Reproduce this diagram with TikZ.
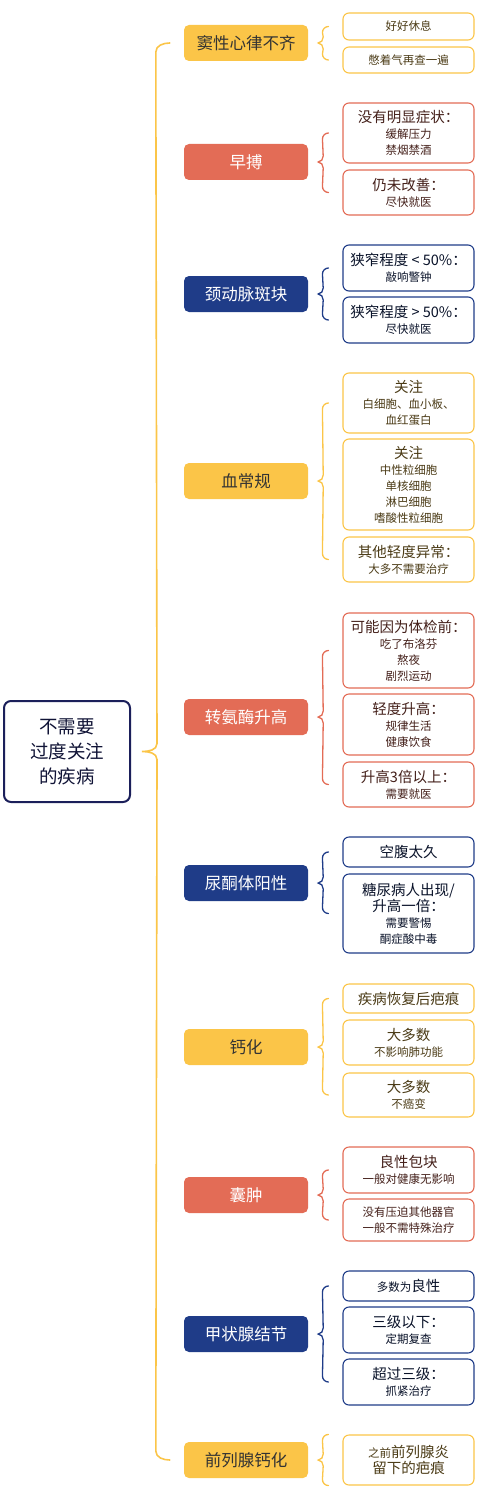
\documentclass[tikz,border=0pt]{standalone}
\usepackage{fontspec}
\newfontfamily\cjk{Noto Sans CJK SC}
\usepackage{tikz}

\definecolor{mapyellow}{HTML}{FBC548}
\definecolor{mapred}{HTML}{E36C56}
\definecolor{mapblue}{HTML}{1F3C88}
\definecolor{mapnavy}{HTML}{1B1F5A}

\tikzset{
  topic/.style={rounded corners=5pt,minimum width=124pt,minimum height=36pt,inner sep=0pt,
    font=\cjk\fontsize{16.5}{18}\selectfont},
  ytopic/.style={topic,fill=mapyellow,text=black!80},
  rtopic/.style={topic,fill=mapred,text=white},
  btopic/.style={topic,fill=mapblue,text=white},
  leaf/.style={draw=#1,line width=1.1pt,rounded corners=6pt,fill=white,minimum width=131pt,
    inner sep=0pt,align=center,text=#1!30!black,font=\cjk\fontsize{11.5}{16}\selectfont},
  curly/.style={line width=1.3pt,line cap=round},
}
\newcommand{\firstln}[1]{{\fontsize{14.5}{16}\selectfont #1}}
% brace from the first leaf to the last one, tip at the topic
\newcommand{\curlybrace}[4]{%
  \draw[curly,#1] ([xshift=-14pt]#2) to[out=180,in=90] ([xshift=-20pt,yshift=-6pt]#2)
    -- ([xshift=15pt,yshift=6pt]#4.east) to[out=-90,in=0] ([xshift=10pt]#4.east)
    to[out=0,in=90] ([xshift=15pt,yshift=-6pt]#4.east)
    -- ([xshift=-20pt,yshift=6pt]#3) to[out=-90,in=180] ([xshift=-14pt]#3);}

\begin{document}
\begin{tikzpicture}[x=1pt,y=-1pt]
    \useasboundingbox (0,0) rectangle (496,1490);

    \node[draw=mapnavy,line width=2pt,rounded corners=7pt,fill=white,minimum width=126pt,
      minimum height=101pt,align=center,text=mapnavy!60!black,
      font=\cjk\fontsize{18.5}{25}\selectfont] (root) at (67,751.5) {不需要\\过度关注\\的疾病};

    % topics
    \node[ytopic] (dou) at (246,43) {窦性心律不齐};
    \node[rtopic] (zaobo) at (246,162) {早搏};
    \node[btopic] (jingdong) at (246,294) {颈动脉斑块};
    \node[ytopic] (xuechang) at (246,481) {血常规};
    \node[rtopic] (zhuan) at (246,717) {转氨酶升高};
    \node[btopic] (niaotong) at (246,883) {尿酮体阳性};
    \node[ytopic] (gaihua) at (246,1047) {钙化};
    \node[rtopic] (nangzhong) at (246,1195) {囊肿};
    \node[btopic] (jiazhuang) at (246,1334) {甲状腺结节};
    \node[ytopic] (qianlie) at (246,1460) {前列腺钙化};

    % leaves
    \node[leaf=mapyellow,minimum height=27pt] (dou1) at (408.5,26.5) {好好休息};
    \node[leaf=mapyellow,minimum height=26pt] (dou2) at (408.5,60) {憋着气再查一遍};

    \node[leaf=mapred,minimum height=60pt] (zaobo1) at (408.5,133) {\firstln{没有明显症状：}\\缓解压力\\禁烟禁酒};
    \node[leaf=mapred,minimum height=45pt] (zaobo2) at (408.5,192.5) {\firstln{仍未改善：}\\尽快就医};

    \node[leaf=mapblue,minimum height=46pt] (jingdong1) at (408.5,268) {\firstln{狭窄程度 < 50\%：}\\敲响警钟};
    \node[leaf=mapblue,minimum height=46pt] (jingdong2) at (408.5,320) {\firstln{狭窄程度 > 50\%：}\\尽快就医};

    \node[leaf=mapyellow,minimum height=60pt] (xuechang1) at (408.5,403) {\firstln{关注}\\白细胞、血小板、\\血红蛋白};
    \node[leaf=mapyellow,minimum height=91pt] (xuechang2) at (408.5,484.5) {\firstln{关注}\\中性粒细胞\\单核细胞\\淋巴细胞\\嗜酸性粒细胞};
    \node[leaf=mapyellow,minimum height=45pt] (xuechang3) at (408.5,559.5) {\firstln{其他轻度异常：}\\大多不需要治疗};

    \node[leaf=mapred,minimum height=75pt] (zhuan1) at (408.5,650.5) {\firstln{可能因为体检前：}\\吃了布洛芬\\熬夜\\剧烈运动};
    \node[leaf=mapred,minimum height=61pt] (zhuan2) at (408.5,724.5) {\firstln{轻度升高：}\\规律生活\\健康饮食};
    \node[leaf=mapred,minimum height=45pt] (zhuan3) at (408.5,784.5) {\firstln{升高3倍以上：}\\需要就医};

    \node[leaf=mapblue,minimum height=30pt] (niaotong1) at (408.5,852) {\firstln{空腹太久}};
    \node[leaf=mapblue,minimum height=79pt] (niaotong2) at (408.5,913.5) {\firstln{糖尿病人出现/}\\\firstln{升高一倍：}\\需要警惕\\酮症酸中毒};

    \node[leaf=mapyellow,minimum height=29pt] (gaihua1) at (408.5,998.5) {\firstln{疾病恢复后疤痕}};
    \node[leaf=mapyellow,minimum height=45pt] (gaihua2) at (408.5,1042.5) {\firstln{大多数}\\不影响肺功能};
    \node[leaf=mapyellow,minimum height=44pt] (gaihua3) at (408.5,1095) {\firstln{大多数}\\不癌变};

    \node[leaf=mapred,minimum height=46pt] (nangzhong1) at (408.5,1170) {\firstln{良性包块}\\一般对健康无影响};
    \node[leaf=mapred,minimum height=42pt] (nangzhong2) at (408.5,1220) {没有压迫其他器官\\一般不需特殊治疗};

    \node[leaf=mapblue,minimum height=30pt] (jiazhuang1) at (408.5,1286) {多数为\firstln{良性}};
    \node[leaf=mapblue,minimum height=46pt] (jiazhuang2) at (408.5,1330) {\firstln{三级以下：}\\定期复查};
    \node[leaf=mapblue,minimum height=46pt] (jiazhuang3) at (408.5,1382) {\firstln{超过三级：}\\抓紧治疗};

    \node[leaf=mapyellow,minimum height=50pt] (qianlie1) at (408.5,1460) {之前\firstln{前列腺炎}\\\firstln{留下的疤痕}};

    % braces
    \draw[curly,line width=1.6pt,mapyellow] ([xshift=-14pt]dou.west) to[out=180,in=90] ([xshift=-28pt,yshift=-9pt]dou.west)
      -- ([xshift=26pt,yshift=8pt]root.east) to[out=-90,in=0] ([xshift=11pt]root.east)
      to[out=0,in=90] ([xshift=26pt,yshift=-8pt]root.east)
      -- ([xshift=-28pt,yshift=9pt]qianlie.west) to[out=-90,in=180] ([xshift=-14pt]qianlie.west);
    \curlybrace{mapyellow}{dou1.west}{dou2.west}{dou}
    \curlybrace{mapred}{zaobo1.west}{zaobo2.west}{zaobo}
    \curlybrace{mapblue}{jingdong1.west}{jingdong2.west}{jingdong}
    \curlybrace{mapyellow}{xuechang1.west}{xuechang3.west}{xuechang}
    \curlybrace{mapred}{zhuan1.west}{zhuan3.west}{zhuan}
    \curlybrace{mapblue}{niaotong1.west}{niaotong2.west}{niaotong}
    \curlybrace{mapyellow}{gaihua1.west}{gaihua3.west}{gaihua}
    \curlybrace{mapred}{nangzhong1.west}{nangzhong2.west}{nangzhong}
    \curlybrace{mapblue}{jiazhuang1.west}{jiazhuang3.west}{jiazhuang}
    \curlybrace{mapyellow}{qianlie1.north west}{qianlie1.south west}{qianlie}
\end{tikzpicture}
\end{document}
